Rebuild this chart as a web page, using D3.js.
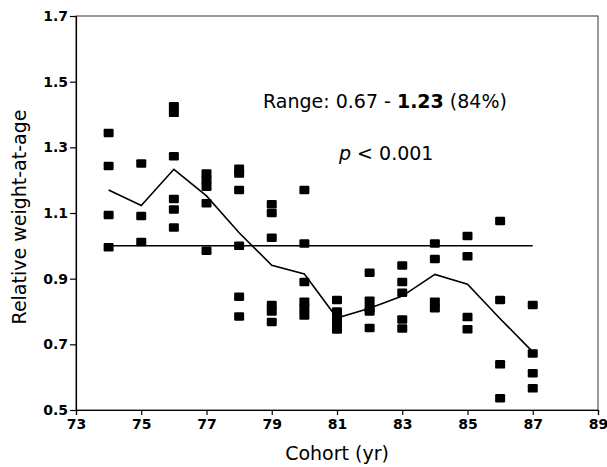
<!DOCTYPE html>
<html>
<head>
<meta charset="utf-8">
<script src="https://cdn.jsdelivr.net/npm/d3@7"></script>
<style>
  body { margin: 0; background: #fff; }
  svg text { font-family: "DejaVu Sans", sans-serif; fill: #000; }
</style>
</head>
<body>
<div id="chart"></div>
<script>
// cohort years and the individual relative weight-at-age values
const COHORTS = [74, 75, 76, 77, 78, 79, 80, 81, 82, 83, 84, 85, 86, 87];
const POINTS = [
  [1.344, 1.243, 1.094, 0.996],
  [1.251, 1.091, 1.012],
  [1.425, 1.405, 1.273, 1.143, 1.111, 1.056],
  [1.22, 1.20, 1.18, 1.13, 0.985],
  [1.235, 1.22, 1.17, 1.0, 0.845, 0.785],
  [1.127, 1.10, 1.025, 0.82, 0.80, 0.768],
  [1.17, 1.007, 0.89, 0.83, 0.81, 0.788],
  [0.835, 0.80, 0.78, 0.76, 0.745],
  [0.918, 0.833, 0.81, 0.80, 0.75],
  [0.94, 0.89, 0.857, 0.776, 0.748],
  [1.007, 0.96, 0.83, 0.81],
  [1.03, 0.968, 0.783, 0.746],
  [1.076, 0.835, 0.639, 0.536],
  [0.82, 0.672, 0.612, 0.566]
];
// line through the cohorts
const LINE_VALUES = [1.17, 1.123, 1.233, 1.152, 1.04, 0.941, 0.914, 0.78, 0.81, 0.847, 0.913, 0.883, 0.778, 0.677];
const REF_LEVEL = 1.0;
const X_TICKS = [73, 75, 77, 79, 81, 83, 85, 87, 89];
const Y_TICKS = [0.5, 0.7, 0.9, 1.1, 1.3, 1.5, 1.7];

const W = 607, H = 467;
const M = { left: 76, right: 9, top: 16, bottom: 57 };

const x = d3.scaleLinear().domain([73, 89]).range([M.left, W - M.right]);
const y = d3.scaleLinear().domain([0.5, 1.7]).range([H - M.bottom, M.top]);

const svg = d3.select("#chart").append("svg")
  .attr("width", W).attr("height", H);

// frame
svg.append("rect")
  .attr("x", x(73)).attr("y", y(1.7))
  .attr("width", x(89) - x(73)).attr("height", y(0.5) - y(1.7))
  .attr("fill", "none").attr("stroke", "#333").attr("stroke-width", 1);

// axes
const fmt = d => d.toFixed(1);
const yAxis = svg.append("g")
  .attr("transform", `translate(${x(73)},0)`)
  .call(d3.axisLeft(y).tickValues(Y_TICKS).tickFormat(fmt).tickSize(6).tickPadding(2));
const xAxis = svg.append("g")
  .attr("transform", `translate(0,${y(0.5)})`)
  .call(d3.axisBottom(x).tickValues(X_TICKS).tickFormat(d3.format("d")).tickSize(5).tickPadding(4));

[yAxis, xAxis].forEach(g => {
  g.select(".domain").attr("stroke", "#000").attr("stroke-width", 1.2);
  g.selectAll(".tick line").attr("stroke", "#000").attr("stroke-width", 1.2);
  g.selectAll(".tick text")
    .attr("font-family", "DejaVu Sans, sans-serif")
    .attr("font-size", 14).attr("font-weight", "bold").attr("fill", "#000");
});

// reference line at 1.0
svg.append("line")
  .attr("x1", x(COHORTS[0])).attr("x2", x(COHORTS[COHORTS.length - 1]))
  .attr("y1", y(REF_LEVEL)).attr("y2", y(REF_LEVEL))
  .attr("stroke", "#000").attr("stroke-width", 1.5);

// cohort line
const line = d3.line().x((d, i) => x(COHORTS[i])).y(d => y(d));
svg.append("path")
  .datum(LINE_VALUES)
  .attr("d", line)
  .attr("fill", "none").attr("stroke", "#000").attr("stroke-width", 1.6);

// points
const SQ_W = 10, SQ_H = 8.5;
const pts = COHORTS.flatMap((c, i) => POINTS[i].map(v => ({ c, v })));
svg.selectAll(".pt")
  .data(pts)
  .enter().append("rect")
  .attr("class", "pt")
  .attr("x", d => x(d.c) - SQ_W / 2)
  .attr("y", d => y(d.v) - SQ_H / 2)
  .attr("width", SQ_W).attr("height", SQ_H)
  .attr("rx", 1.2)
  .attr("fill", "#000");

// axis titles
svg.append("text")
  .attr("x", (x(73) + x(89)) / 2).attr("y", 460)
  .attr("text-anchor", "middle").attr("font-size", 19)
  .text("Cohort (yr)");

svg.append("text")
  .attr("transform", `translate(26,${(y(0.5) + y(1.7)) / 2 + 4}) rotate(-90)`)
  .attr("text-anchor", "middle").attr("font-size", 19)
  .text("Relative weight-at-age");

// annotations
const ann = svg.append("text")
  .attr("x", 263).attr("y", 108).attr("font-size", 19);
ann.append("tspan").text("Range: 0.67 - ");
ann.append("tspan").attr("font-weight", "bold").text("1.23");
ann.append("tspan").text(" (84%)");

const pv = svg.append("text")
  .attr("x", 339).attr("y", 160).attr("font-size", 19);
pv.append("tspan").attr("font-style", "italic").text("p");
pv.append("tspan").text(" < 0.001");
</script>
</body>
</html>
